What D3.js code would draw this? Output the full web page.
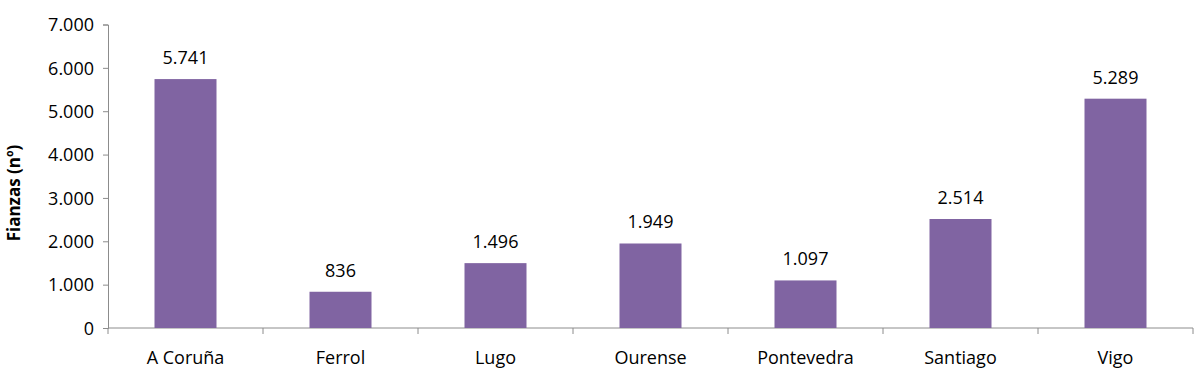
<!DOCTYPE html>
<html>
<head>
<meta charset="utf-8">
<script src="https://cdn.jsdelivr.net/npm/d3@7"></script>
<style>
  body { margin: 0; background: #fff; }
  svg text { font-family: "Open Sans", "Noto Sans", sans-serif; fill: #000; }
</style>
</head>
<body>
<script>
const WIDTH = 1200
const HEIGHT = 386

const ciudades = ["A Coruña", "Ferrol", "Lugo", "Ourense", "Pontevedra", "Santiago", "Vigo"]
const fianzas = [5741, 836, 1496, 1949, 1097, 2514, 5289]
const yTicks = [0, 1000, 2000, 3000, 4000, 5000, 6000, 7000]

var fmt = d3.formatLocale({decimal: ",", thousands: ".", grouping: [3], currency: ["", "€"]}).format(",d")

var svg = d3.select("body").append("svg")
    .attr("width", WIDTH)
    .attr("height", HEIGHT);

var x = d3.scaleBand()
    .domain(ciudades)
    .range([108, 1193])
    .paddingInner(0.6)
    .paddingOuter(0.3);

var y = d3.scaleLinear()
    .domain([0, 7000])
    .range([328, 24.5]);

// eje y
var yAxis = svg.append("g")
    .attr("transform", "translate(108,0)")
    .call(d3.axisLeft(y).tickValues(yTicks).tickFormat(fmt).tickSize(5).tickPadding(9));
yAxis.select(".domain").attr("stroke", "#8c8c8c");
yAxis.selectAll(".tick line").attr("stroke", "#8c8c8c");
yAxis.selectAll(".tick text").attr("font-size", 18).attr("dy", "0.35em");

// eje x
var step = x.step();
var xAxis = svg.append("g").attr("transform", "translate(0,328)");
xAxis.append("line")
    .attr("x1", 108).attr("x2", 1193)
    .attr("stroke", "#8c8c8c");
xAxis.selectAll(".sep")
    .data(d3.range(ciudades.length + 1))
    .join("line")
    .attr("x1", function(i){ return 108 + i * step; })
    .attr("x2", function(i){ return 108 + i * step; })
    .attr("y1", 0).attr("y2", 6)
    .attr("stroke", "#8c8c8c");
xAxis.selectAll(".cat")
    .data(ciudades)
    .join("text")
    .attr("x", function(d){ return x(d) + x.bandwidth() / 2; })
    .attr("y", 36)
    .attr("text-anchor", "middle")
    .attr("font-size", 18)
    .text(function(d){ return d; });

// barras
svg.selectAll(".bar")
    .data(ciudades)
    .join("rect")
    .attr("x", function(d){ return x(d); })
    .attr("width", x.bandwidth())
    .attr("y", function(d, i){ return y(fianzas[i]); })
    .attr("height", function(d, i){ return y(0) - y(fianzas[i]); })
    .attr("fill", "#8064a2");

// etiquetas de valores
svg.selectAll(".val")
    .data(ciudades)
    .join("text")
    .attr("x", function(d){ return x(d) + x.bandwidth() / 2; })
    .attr("y", function(d, i){ return y(fianzas[i]) - 15; })
    .attr("text-anchor", "middle")
    .attr("font-size", 18)
    .text(function(d, i){ return fmt(fianzas[i]); });

// titulo eje y
svg.append("text")
    .attr("transform", "translate(20,193) rotate(-90)")
    .attr("text-anchor", "middle")
    .attr("font-size", 17)
    .attr("font-weight", "bold")
    .text("Fianzas (nº)");
</script>
</body>
</html>
